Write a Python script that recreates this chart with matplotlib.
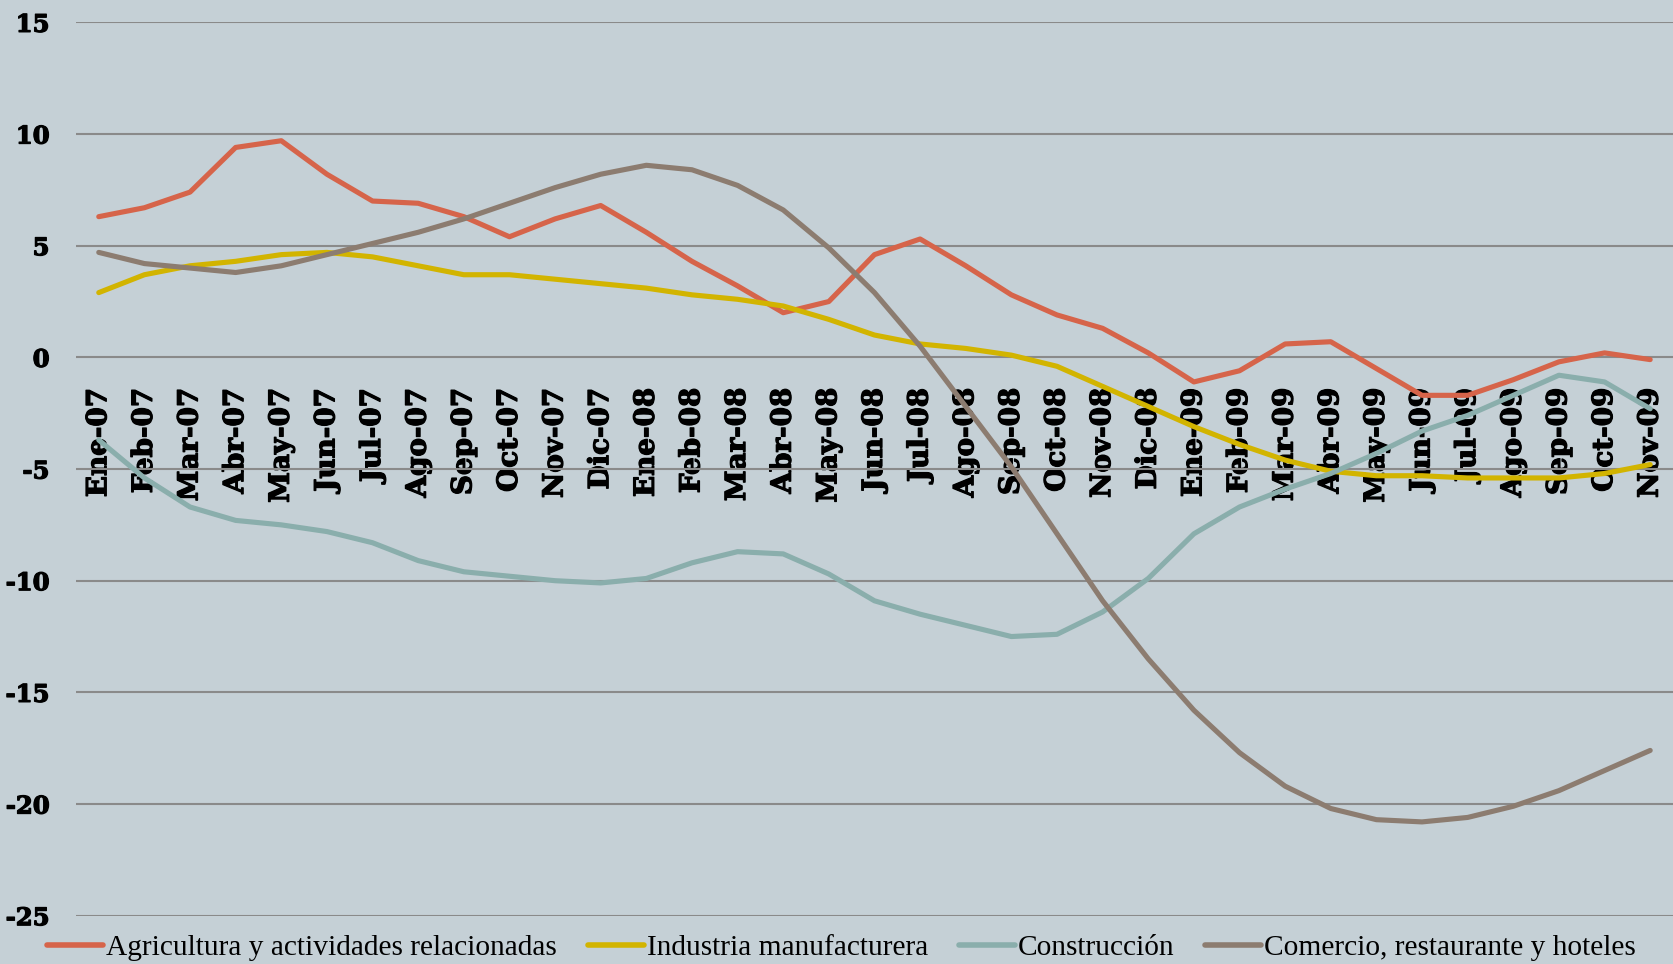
import matplotlib
matplotlib.use("Agg")
import matplotlib.pyplot as plt
import matplotlib.patheffects as pe

months = ["Ene", "Feb", "Mar", "Abr", "May", "Jun", "Jul", "Ago", "Sep", "Oct", "Nov", "Dic"]
categories = [f"{m}-{y}" for y in ["07", "08"] for m in months] + [f"{m}-09" for m in months[:11]]

agricultura = [6.3, 6.7, 7.4, 9.4, 9.7, 8.2, 7.0, 6.9, 6.3, 5.4, 6.2, 6.8,
               5.6, 4.3, 3.2, 2.0, 2.5, 4.6, 5.3, 4.1, 2.8, 1.9, 1.3, 0.2,
               -1.1, -0.6, 0.6, 0.7, -0.5, -1.7, -1.7, -1.0, -0.2, 0.2, -0.1]
industria = [2.9, 3.7, 4.1, 4.3, 4.6, 4.7, 4.5, 4.1, 3.7, 3.7, 3.5, 3.3,
             3.1, 2.8, 2.6, 2.3, 1.7, 1.0, 0.6, 0.4, 0.1, -0.4, -1.3, -2.2,
             -3.1, -3.9, -4.6, -5.1, -5.3, -5.3, -5.4, -5.4, -5.4, -5.2, -4.8]
construccion = [-3.7, -5.4, -6.7, -7.3, -7.5, -7.8, -8.3, -9.1, -9.6, -9.8, -10.0, -10.1,
                -9.9, -9.2, -8.7, -8.8, -9.7, -10.9, -11.5, -12.0, -12.5, -12.4, -11.4, -9.9,
                -7.9, -6.7, -5.9, -5.2, -4.3, -3.3, -2.6, -1.7, -0.8, -1.1, -2.3]
comercio = [4.7, 4.2, 4.0, 3.8, 4.1, 4.6, 5.1, 5.6, 6.2, 6.9, 7.6, 8.2,
            8.6, 8.4, 7.7, 6.6, 4.9, 2.9, 0.5, -2.2, -4.9, -7.9, -10.9, -13.5,
            -15.8, -17.7, -19.2, -20.2, -20.7, -20.8, -20.6, -20.1, -19.4, -18.5, -17.6]

series_names = ["Agricultura y actividades relacionadas", "Industria manufacturera",
                "Construcción", "Comercio, restaurante y hoteles"]
series_values = [agricultura, industria, construccion, comercio]
colors = ["#d6644a", "#d2b400", "#8aaeac", "#8c7c70"]
yticks = [15, 10, 5, 0, -5, -10, -15, -20, -25]

bg = "#c5d0d6"
fig = plt.figure(figsize=(16.73, 9.64), dpi=100, facecolor=bg)
ax = fig.add_axes([0.0454, 0.0501, 0.9546, 0.9267], facecolor=bg)
ax.spines["bottom"].set_position(("data", 0))
for s in ax.spines.values():
    s.set_visible(False)

x = list(range(len(categories)))
for name, vals, c in zip(series_names, series_values, colors):
    ax.plot(x, vals, color=c, lw=3.7, label=name, solid_capstyle="round",
            solid_joinstyle="round", zorder=3)

bold_fx = [pe.withStroke(linewidth=0.9, foreground="black")]

ax.set_xlim(-0.5, len(categories) - 0.5)
ax.set_ylim(-25, 15)
ax.set_yticks(yticks)
ax.set_yticklabels([str(v) for v in yticks], fontfamily="DejaVu Serif",
                   fontweight="bold", fontsize=17.5)
ax.yaxis.grid(True, color="#8a8a8a", lw=1.5, zorder=1)
ax.set_axisbelow(True)
ax.tick_params(axis="y", length=0, pad=19)

ax.set_xticks(x)
ax.set_xticklabels(categories, rotation=90, fontfamily="DejaVu Serif",
                   fontweight="bold", fontsize=20, va="top", ha="center")
ax.tick_params(axis="x", length=0, pad=22)
for lbl in ax.get_xticklabels():
    lbl.set_path_effects(bold_fx)
for lbl in ax.get_yticklabels():
    lbl.set_path_effects(bold_fx)

leg = fig.legend(loc="center", bbox_to_anchor=(0.503, 0.017), ncol=4, frameon=False,
                 prop={"family": "Liberation Serif", "size": 21.2},
                 handlelength=1.9, handletextpad=0.1, columnspacing=1.05)
for h in leg.get_lines():
    h.set_linewidth(4)

fig.savefig("out.png", dpi=100, facecolor=bg)
